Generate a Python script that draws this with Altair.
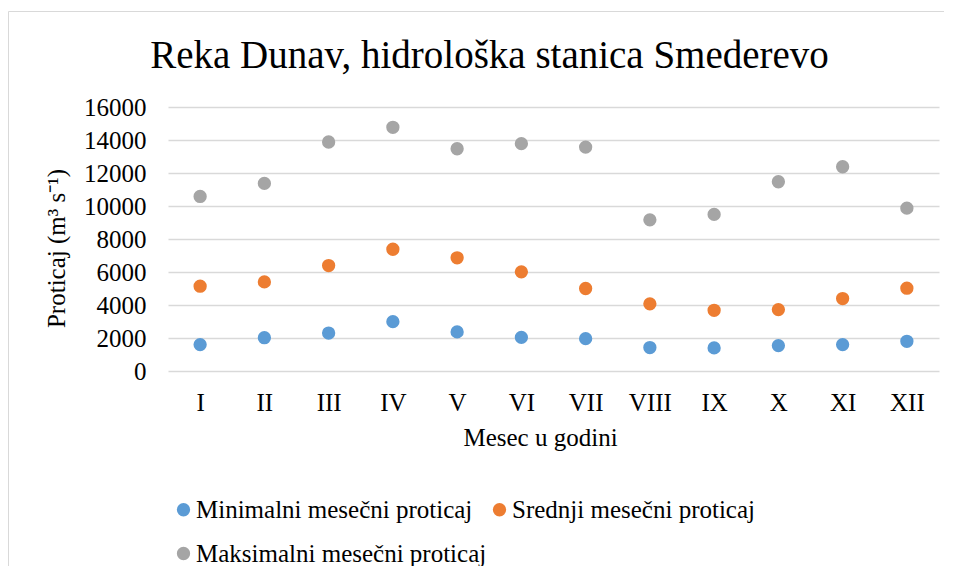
import altair as alt
import pandas as pd

months = ["I", "II", "III", "IV", "V", "VI", "VII", "VIII", "IX", "X", "XI", "XII"]
series_names = ["Minimalni mesečni proticaj", "Srednji mesečni proticaj", "Maksimalni mesečni proticaj"]
min_vals = [1600, 2020, 2300, 2990, 2370, 2040, 1960, 1420, 1400, 1540, 1600, 1800]
mean_vals = [5140, 5400, 6390, 7380, 6860, 6010, 5000, 4070, 3680, 3720, 4390, 5020]
max_vals = [10580, 11370, 13880, 14770, 13470, 13780, 13570, 9160, 9490, 11470, 12380, 9870]
colors = ["#5B9BD5", "#ED7D31", "#A5A5A5"]
y_ticks = [0, 2000, 4000, 6000, 8000, 10000, 12000, 14000, 16000]

rows = []
for name, vals in zip(series_names, [min_vals, mean_vals, max_vals]):
    for m, v in zip(months, vals):
        rows.append({"Mesec": m, "Proticaj": v, "Serija": name})
df = pd.DataFrame(rows)

FONT = "Liberation Serif"
W, H = 771, 264

points = alt.Chart(df).mark_circle(size=177, opacity=1).encode(
    x=alt.X("Mesec:N", sort=months,
            scale=alt.Scale(paddingInner=0, paddingOuter=0),
            axis=alt.Axis(title="Mesec u godini", labelAngle=0, ticks=False, domain=False,
                          labelPadding=19, titlePadding=10, titleX=372)),
    y=alt.Y("Proticaj:Q", scale=alt.Scale(domain=[0, 16000], nice=False),
            axis=alt.Axis(title="Proticaj (m³ s⁻¹)", values=y_ticks, format="d",
                          ticks=False, domain=False, labelPadding=22,
                          titleX=-112, titleY=141, titleBaseline="middle")),
    color=alt.Color("Serija:N", sort=series_names,
                    scale=alt.Scale(domain=series_names, range=colors),
                    legend=alt.Legend(title=None, orient="none", legendX=3, legendY=390,
                                      columns=2, direction="horizontal",
                                      symbolType="circle", symbolSize=177,
                                      labelFontSize=25, labelFont=FONT, labelColor="#000000",
                                      labelOffset=0, columnPadding=0, rowPadding=18,
                                      padding=0, labelLimit=400)),
)

frame_df = pd.DataFrame({"a": [0]})
frame_left = alt.Chart(frame_df).mark_rule(color="#d9d9d9", strokeWidth=1).encode(
    x=alt.value(-159.5), y=alt.value(-95.5), y2=alt.value(H + 300))
frame_top = alt.Chart(frame_df).mark_rule(color="#d9d9d9", strokeWidth=1).encode(
    x=alt.value(-159.5), x2=alt.value(W + 50), y=alt.value(-95.5))

chart = alt.layer(frame_left, frame_top, points).properties(
    width=W, height=H,
    title=alt.TitleParams("Reka Dunav, hidrološka stanica Smederevo", font=FONT,
                          fontSize=39, fontWeight="normal", color="#000000",
                          anchor="middle", dx=-64, offset=-65),
    autosize=alt.AutoSizeParams(type="none"),
    padding={"left": 160, "top": 99, "right": 5, "bottom": 195},
).configure_view(stroke=None).configure_axis(
    labelFont=FONT, labelFontSize=25, labelColor="#000000",
    titleFont=FONT, titleFontSize=25, titleFontWeight="normal", titleColor="#000000",
    gridColor="#d9d9d9", gridWidth=1.3,
).configure_axisX(grid=False).configure_axisY(grid=True)

chart.save("out.html", embed_options={"renderer": "svg", "actions": False})
